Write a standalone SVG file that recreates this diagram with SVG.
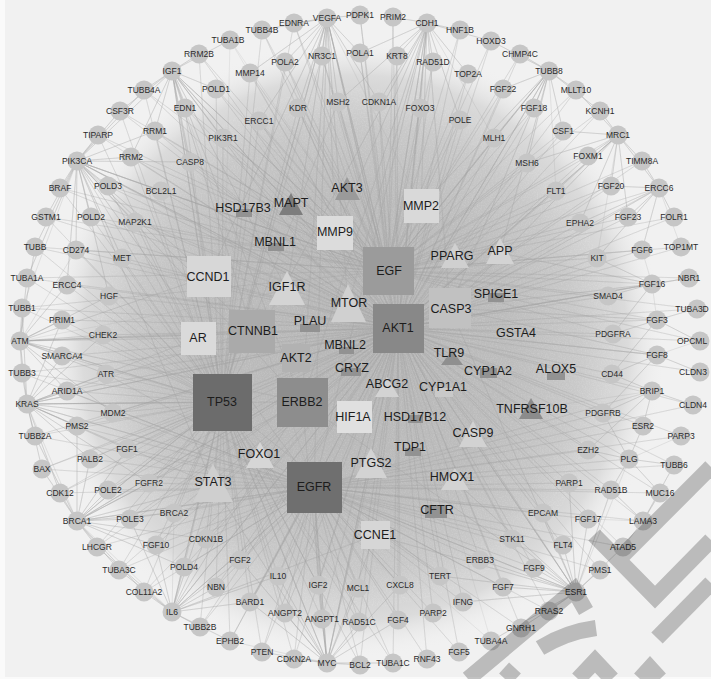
<svg xmlns="http://www.w3.org/2000/svg" width="711" height="679" viewBox="0 0 711 679">
<defs>
<radialGradient id="hz" cx="355" cy="348" r="310" gradientUnits="userSpaceOnUse">
<stop offset="0" stop-color="#b6b6b6"/>
<stop offset="0.5" stop-color="#bcbcbc"/>
<stop offset="0.72" stop-color="#c8c8c8"/>
<stop offset="0.88" stop-color="#dbdbdb"/>
<stop offset="1" stop-color="#f1f1f1" stop-opacity="0"/>
</radialGradient>
<filter id="nz" x="0" y="0" width="100%" height="100%">
<feTurbulence type="fractalNoise" baseFrequency="0.75" numOctaves="2" seed="3" result="n"/>
<feColorMatrix in="n" type="matrix" values="0 0 0 0 1 0 0 0 0 1 0 0 0 0 1 1 0 0 0 -0.4" result="w"/>
<feComposite in="w" in2="SourceGraphic" operator="in"/>
</filter>
<style>
.c{fill:#c6c6c6}
.t{font-family:"Liberation Sans",Arial,sans-serif;font-size:8.5px;fill:#2a2a2a;text-anchor:middle;dominant-baseline:central}
.T{font-family:"Liberation Sans",Arial,sans-serif;font-size:12.5px;fill:#1c1c1c;text-anchor:middle;dominant-baseline:central}
.e{fill:none;stroke:#a2a2a2;stroke-width:0.45;stroke-opacity:0.38;stroke-linejoin:round}
.f{fill:none;stroke:#a6a6a6;stroke-width:0.5;stroke-opacity:0.5;stroke-linejoin:round}
.sd{fill:#929292}
</style>
</defs>
<rect width="711" height="679" fill="#fafafa"/>
<rect x="5" y="0" width="706" height="677" fill="#f1f1f1"/>
<circle cx="355" cy="348" r="310" fill="url(#hz)"/>
<circle cx="355" cy="348" r="260" fill="#000" filter="url(#nz)" opacity="0.3"/>
<g id="connectors">
<path class="e" d="M230 40L398 328 199 54 398 328 172 71 398 328 144 90 398 328 216 89 398 328 120 111 398 328 185 108 398 328 98 135 398 328 155 131 398 328 223 138 398 328 77 161 398 328 131 157 398 328 190 162 398 328 60 188 398 328 108 186 398 328 161 191 398 328 46 217 398 328 91 217 398 328 135 222 398 328 262 30 398 328 294 23 398 328 327 18 398 328 360 15 398 328 393 17 398 328 427 23 398 328 460 30 398 328 322 56 398 328 360 53 398 328 397 56 398 328 285 62 398 328 433 62 398 328 250 73 398 328 468 74 398 328 338 102 398 328 379 102 398 328 298 108 398 328 420 108 398 328 259 121 398 328 460 120 398 328 491 41 398 328 520 54 398 328 549 71 398 328 503 89 398 328 576 90 398 328 534 108 398 328 600 111 398 328 563 131 398 328 494 138 398 328 618 135 398 328 588 156 398 328 527 163 398 328 642 161 398 328 611 186 398 328 556 191 398 328 659 188 398 328 628 217 398 328 674 217 398 328 580 223 398 328 35 247 398 328 76 250 398 328 122 258 398 328 27 278 398 328 67 285 398 328 109 296 398 328 22 308 398 328 62 320 398 328 103 335 398 328 20 341 398 328 62 356 398 328 22 373 398 328 106 374 398 328 67 391 398 328 27 404 398 328 113 413 398 328 77 426 398 328 35 436 398 328 127 449 398 328 597 258 398 328 642 250 398 328 681 247 398 328 608 296 398 328 652 284 398 328 689 278 398 328 695 309 398 328 657 320 398 328 613 334 398 328 698 341 398 328 657 355 398 328 612 374 398 328 699 372 398 328 652 391 398 328 693 405 398 328 603 413 398 328 643 426 398 328 681 436 398 328 588 450 398 328 90 459 398 328 42 469 398 328 149 483 398 328 60 493 398 328 108 490 398 328 77 521 398 328 130 519 398 328 174 513 398 328 206 539 398 328 97 547 398 328 156 545 398 328 119 570 398 328 184 567 398 328 240 560 398 328 144 592 398 328 216 587 398 328 172 612 398 328 200 627 398 328 230 641 398 328 278 576 398 328 318 585 398 328 358 588 398 328 400 585 398 328 440 576 398 328 250 602 398 328 285 613 398 328 322 619 398 328 359 622 398 328 398 620 398 328 433 613 398 328 463 602 398 328 262 652 398 328 294 659 398 328 327 663 398 328 360 665 398 328 393 663 398 328 427 659 398 328 459 652 398 328 629 459 398 328 674 465 398 328 569 483 398 328 611 490 398 328 660 493 398 328 543 513 398 328 588 519 398 328 643 521 398 328 512 539 398 328 563 545 398 328 623 547 398 328 480 560 398 328 534 568 398 328 600 570 398 328 503 587 398 328 576 592 398 328 549 611 398 328 521 628 398 328 491 641"/>
<path class="e" d="M230 40L222 402 199 54 222 402 172 71 222 402 144 90 222 402 216 89 222 402 120 111 222 402 185 108 222 402 98 135 222 402 155 131 222 402 223 138 222 402 77 161 222 402 131 157 222 402 190 162 222 402 60 188 222 402 108 186 222 402 161 191 222 402 46 217 222 402 91 217 222 402 135 222 222 402 262 30 222 402 294 23 222 402 327 18 222 402 322 56 222 402 285 62 222 402 250 73 222 402 338 102 222 402 298 108 222 402 259 121 222 402 35 247 222 402 76 250 222 402 122 258 222 402 27 278 222 402 67 285 222 402 109 296 222 402 22 308 222 402 62 320 222 402 103 335 222 402 20 341 222 402 62 356 222 402 22 373 222 402 106 374 222 402 67 391 222 402 27 404 222 402 113 413 222 402 77 426 222 402 35 436 222 402 127 449 222 402 90 459 222 402 42 469 222 402 149 483 222 402 60 493 222 402 108 490 222 402 77 521 222 402 130 519 222 402 174 513 222 402 206 539 222 402 97 547 222 402 156 545 222 402 119 570 222 402 184 567 222 402 240 560 222 402 144 592 222 402 216 587 222 402 172 612 222 402 200 627 222 402 230 641 222 402 278 576 222 402 318 585 222 402 358 588 222 402 250 602 222 402 285 613 222 402 322 619 222 402 359 622 222 402 262 652 222 402 294 659 222 402 327 663 222 402 360 665 222 402 393 663 222 402 440 576 222 402 400 585"/>
<path class="e" d="M27 404L314 487 113 413 314 487 77 426 314 487 35 436 314 487 127 449 314 487 22 373 314 487 67 391 314 487 106 374 314 487 603 413 314 487 643 426 314 487 681 436 314 487 588 450 314 487 693 405 314 487 652 391 314 487 90 459 314 487 42 469 314 487 149 483 314 487 60 493 314 487 108 490 314 487 77 521 314 487 130 519 314 487 174 513 314 487 206 539 314 487 97 547 314 487 156 545 314 487 119 570 314 487 184 567 314 487 240 560 314 487 144 592 314 487 216 587 314 487 172 612 314 487 200 627 314 487 230 641 314 487 278 576 314 487 318 585 314 487 358 588 314 487 400 585 314 487 440 576 314 487 250 602 314 487 285 613 314 487 322 619 314 487 359 622 314 487 398 620 314 487 433 613 314 487 463 602 314 487 262 652 314 487 294 659 314 487 327 663 314 487 360 665 314 487 393 663 314 487 427 659 314 487 459 652 314 487 629 459 314 487 674 465 314 487 569 483 314 487 611 490 314 487 660 493 314 487 543 513 314 487 588 519 314 487 643 521 314 487 512 539 314 487 563 545 314 487 623 547 314 487 480 560 314 487 534 568 314 487 600 570 314 487 503 587 314 487 576 592 314 487 549 611 314 487 521 628 314 487 491 641"/>
<path class="e" d="M230 40L388 271 199 54 388 271 172 71 388 271 144 90 388 271 216 89 388 271 120 111 388 271 185 108 388 271 98 135 388 271 155 131 388 271 223 138 388 271 77 161 388 271 131 157 388 271 190 162 388 271 60 188 388 271 108 186 388 271 161 191 388 271 46 217 388 271 91 217 388 271 135 222 388 271 262 30 388 271 294 23 388 271 327 18 388 271 360 15 388 271 393 17 388 271 427 23 388 271 460 30 388 271 322 56 388 271 360 53 388 271 397 56 388 271 285 62 388 271 433 62 388 271 250 73 388 271 468 74 388 271 338 102 388 271 379 102 388 271 298 108 388 271 420 108 388 271 259 121 388 271 460 120 388 271 491 41 388 271 520 54 388 271 549 71 388 271 503 89 388 271 576 90 388 271 534 108 388 271 600 111 388 271 563 131 388 271 494 138 388 271 618 135 388 271 588 156 388 271 527 163 388 271 642 161 388 271 611 186 388 271 556 191 388 271 659 188 388 271 628 217 388 271 674 217 388 271 580 223 388 271 597 258 388 271 642 250 388 271 681 247 388 271 608 296 388 271 652 284 388 271 689 278 388 271 695 309 388 271 657 320 388 271 613 334 388 271 698 341 388 271 35 247 388 271 76 250 388 271 27 278 388 271 22 308 388 271 20 341"/>
<path class="f" d="M77 161L98 135 77 161 120 111 77 161 144 90 77 161 131 157 77 161 108 186 77 161 60 188 77 161 46 217 77 161 91 217 77 161 35 247 77 161 76 250 77 161 27 278 77 161 67 285 77 161 135 222 77 161 161 191 77 161 190 162 77 161 155 131 77 161 209 276 77 161 252 331 77 161 302 402 77 161 314 487 77 161 398 328 77 161 388 271 77 161 213 485 77 161 348 306 77 161 122 258 77 161 109 296 77 161 172 71 77 161 22 308"/>
<path class="f" d="M27 404L20 341 27 404 22 373 27 404 67 391 27 404 62 356 27 404 77 426 27 404 35 436 27 404 113 413 27 404 106 374 27 404 103 335 27 404 62 320 27 404 22 308 27 404 42 469 27 404 90 459 27 404 60 493 27 404 127 449 27 404 222 402 27 404 314 487 27 404 302 402 27 404 213 485 27 404 252 331 27 404 398 328 27 404 198 338 27 404 149 483 27 404 77 521"/>
<path class="f" d="M20 341L22 308 20 341 62 320 20 341 103 335 20 341 62 356 20 341 22 373 20 341 67 391 20 341 106 374 20 341 27 278 20 341 67 285 20 341 109 296 20 341 198 338 20 341 222 402 20 341 252 331 20 341 398 328 20 341 302 402 20 341 209 276 20 341 113 413 20 341 35 247 20 341 76 250"/>
<path class="f" d="M77 521L60 493 77 521 42 469 77 521 90 459 77 521 108 490 77 521 130 519 77 521 149 483 77 521 174 513 77 521 97 547 77 521 119 570 77 521 156 545 77 521 144 592 77 521 77 426 77 521 35 436 77 521 127 449 77 521 206 539 77 521 222 402 77 521 314 487 77 521 213 485 77 521 302 402 77 521 398 328 77 521 184 567 77 521 172 612"/>
<path class="f" d="M172 612L144 592 172 612 119 570 172 612 97 547 172 612 156 545 172 612 184 567 172 612 216 587 172 612 200 627 172 612 230 641 172 612 206 539 172 612 240 560 172 612 250 602 172 612 278 576 172 612 222 402 172 612 314 487 172 612 213 485 172 612 302 402 172 612 398 328 172 612 375 535 172 612 130 519 172 612 174 513"/>
<path class="f" d="M327 663L262 652 327 663 294 659 327 663 360 665 327 663 393 663 327 663 322 619 327 663 285 613 327 663 318 585 327 663 358 588 327 663 359 622 327 663 250 602 327 663 278 576 327 663 398 620 327 663 400 585 327 663 314 487 327 663 375 535 327 663 222 402 327 663 302 402 327 663 398 328 327 663 371 466 327 663 213 485 327 663 240 560 327 663 230 641"/>
<path class="f" d="M576 592L563 545 576 592 600 570 576 592 549 611 576 592 521 628 576 592 491 641 576 592 503 587 576 592 534 568 576 592 512 539 576 592 543 513 576 592 588 519 576 592 569 483 576 592 480 560 576 592 623 547 576 592 611 490 576 592 463 602 576 592 440 576 576 592 314 487 576 592 398 328 576 592 455 481 576 592 473 436 576 592 375 535 576 592 302 402 576 592 450 308 576 592 629 459"/>
<path class="f" d="M427 23L460 30 427 23 393 17 427 23 397 56 427 23 433 62 427 23 468 74 427 23 420 108 427 23 360 53 427 23 379 102 427 23 460 120 427 23 491 41 427 23 338 102 427 23 398 328 427 23 388 271 427 23 421 206 427 23 335 233 427 23 450 308 427 23 348 306 427 23 302 402 427 23 222 402 427 23 314 487 427 23 494 138"/>
<path class="f" d="M327 18L294 23 327 18 262 30 327 18 360 15 327 18 322 56 327 18 285 62 327 18 360 53 327 18 298 108 327 18 338 102 327 18 250 73 327 18 259 121 327 18 379 102 327 18 398 328 327 18 388 271 327 18 335 233 327 18 348 306 327 18 222 402 327 18 314 487 327 18 302 402 327 18 209 276 327 18 287 290 327 18 421 206"/>
<path class="f" d="M172 71L199 54 172 71 230 40 172 71 144 90 172 71 185 108 172 71 216 89 172 71 155 131 172 71 223 138 172 71 190 162 172 71 120 111 172 71 131 157 172 71 209 276 172 71 252 331 172 71 222 402 172 71 398 328 172 71 388 271 172 71 287 290 172 71 348 306 172 71 302 402 172 71 314 487"/>
<path class="f" d="M549 71L520 54 549 71 491 41 549 71 503 89 549 71 534 108 549 71 576 90 549 71 563 131 549 71 494 138 549 71 527 163 549 71 600 111 549 71 398 328 549 71 388 271 549 71 450 308 549 71 500 253 549 71 421 206 549 71 556 191"/>
<path class="f" d="M618 135L600 111 618 135 576 90 618 135 563 131 618 135 588 156 618 135 642 161 618 135 611 186 618 135 659 188 618 135 556 191 618 135 527 163 618 135 580 223 618 135 628 217 618 135 450 308 618 135 398 328 618 135 597 258"/>
<path class="f" d="M659 188L674 217 659 188 628 217 659 188 611 186 659 188 642 161 659 188 580 223 659 188 642 250 659 188 597 258 659 188 450 308 659 188 681 247"/>
<path class="f" d="M652 284L608 296 652 284 613 334 652 284 597 258 652 284 450 308 652 284 398 328 652 284 500 253 652 284 689 278 652 284 642 250M657 320L613 334 657 320 612 374 657 320 450 308 657 320 695 309 657 320 698 341 657 320 652 284M657 355L612 374 657 355 603 413 657 355 450 308 657 355 398 328 657 355 699 372 657 355 698 341M652 391L603 413 652 391 588 450 652 391 693 405 652 391 643 426 652 391 612 374 652 391 531 409M629 459L674 465 629 459 660 493 629 459 611 490 629 459 588 450 629 459 603 413 629 459 643 426 629 459 681 436M643 521L623 547 643 521 660 493 643 521 611 490 643 521 674 465 643 521 588 519"/>
</g>
<g id="nodes">
<g id="TUBA1B"><circle class="c" cx="230" cy="40" r="9.5"/><text class="t" x="228" y="40">TUBA1B</text></g>
<g id="RRM2B"><circle class="c" cx="199" cy="54" r="9.5"/><text class="t" x="199" y="54">RRM2B</text></g>
<g id="IGF1"><circle class="c" cx="172" cy="71" r="9.5"/><text class="t" x="172" y="71">IGF1</text></g>
<g id="TUBB4A"><circle class="c" cx="144" cy="90" r="9.5"/><text class="t" x="144" y="90">TUBB4A</text></g>
<g id="POLD1"><circle class="c" cx="216" cy="89" r="9.5"/><text class="t" x="216" y="89">POLD1</text></g>
<g id="CSF3R"><circle class="c" cx="120" cy="111" r="9.5"/><text class="t" x="120" y="111">CSF3R</text></g>
<g id="EDN1"><circle class="c" cx="185" cy="108" r="9.5"/><text class="t" x="185" y="108">EDN1</text></g>
<g id="TIPARP"><circle class="c" cx="98" cy="135" r="9.5"/><text class="t" x="98" y="135">TIPARP</text></g>
<g id="RRM1"><circle class="c" cx="155" cy="131" r="9.5"/><text class="t" x="155" y="131">RRM1</text></g>
<g id="PIK3R1"><circle class="c" cx="223" cy="138" r="9.5"/><text class="t" x="223" y="138">PIK3R1</text></g>
<g id="PIK3CA"><circle class="c" cx="77" cy="161" r="9.5"/><text class="t" x="77" y="161">PIK3CA</text></g>
<g id="RRM2"><circle class="c" cx="131" cy="157" r="9.5"/><text class="t" x="131" y="157">RRM2</text></g>
<g id="CASP8"><circle class="c" cx="190" cy="162" r="9.5"/><text class="t" x="190" y="162">CASP8</text></g>
<g id="BRAF"><circle class="c" cx="60" cy="188" r="9.5"/><text class="t" x="60" y="188">BRAF</text></g>
<g id="POLD3"><circle class="c" cx="108" cy="186" r="9.5"/><text class="t" x="108" y="186">POLD3</text></g>
<g id="BCL2L1"><circle class="c" cx="161" cy="191" r="9.5"/><text class="t" x="161" y="191">BCL2L1</text></g>
<g id="GSTM1"><circle class="c" cx="46" cy="217" r="9.5"/><text class="t" x="46" y="217">GSTM1</text></g>
<g id="POLD2"><circle class="c" cx="91" cy="217" r="9.5"/><text class="t" x="91" y="217">POLD2</text></g>
<g id="MAP2K1"><circle class="c" cx="135" cy="222" r="9.5"/><text class="t" x="135" y="222">MAP2K1</text></g>
<g id="TUBB4B"><circle class="c" cx="262" cy="30" r="9.5"/><text class="t" x="262" y="30">TUBB4B</text></g>
<g id="EDNRA"><circle class="c" cx="294" cy="23" r="9.5"/><text class="t" x="294" y="23">EDNRA</text></g>
<g id="VEGFA"><circle class="c" cx="327" cy="18" r="9.5"/><text class="t" x="327" y="18">VEGFA</text></g>
<g id="PDPK1"><circle class="c" cx="360" cy="15" r="9.5"/><text class="t" x="360" y="15">PDPK1</text></g>
<g id="PRIM2"><circle class="c" cx="393" cy="17" r="9.5"/><text class="t" x="393" y="17">PRIM2</text></g>
<g id="CDH1"><circle class="c" cx="427" cy="23" r="9.5"/><text class="t" x="427" y="23">CDH1</text></g>
<g id="HNF1B"><circle class="c" cx="460" cy="30" r="9.5"/><text class="t" x="460" y="30">HNF1B</text></g>
<g id="NR3C1"><circle class="c" cx="322" cy="56" r="9.5"/><text class="t" x="322" y="56">NR3C1</text></g>
<g id="POLA1"><circle class="c" cx="360" cy="53" r="9.5"/><text class="t" x="360" y="53">POLA1</text></g>
<g id="KRT8"><circle class="c" cx="397" cy="56" r="9.5"/><text class="t" x="397" y="56">KRT8</text></g>
<g id="POLA2"><circle class="c" cx="285" cy="62" r="9.5"/><text class="t" x="285" y="62">POLA2</text></g>
<g id="RAD51D"><circle class="c" cx="433" cy="62" r="9.5"/><text class="t" x="433" y="62">RAD51D</text></g>
<g id="MMP14"><circle class="c" cx="250" cy="73" r="9.5"/><text class="t" x="250" y="73">MMP14</text></g>
<g id="TOP2A"><circle class="c" cx="468" cy="74" r="9.5"/><text class="t" x="468" y="74">TOP2A</text></g>
<g id="MSH2"><circle class="c" cx="338" cy="102" r="9.5"/><text class="t" x="338" y="102">MSH2</text></g>
<g id="CDKN1A"><circle class="c" cx="379" cy="102" r="9.5"/><text class="t" x="379" y="102">CDKN1A</text></g>
<g id="KDR"><circle class="c" cx="298" cy="108" r="9.5"/><text class="t" x="298" y="108">KDR</text></g>
<g id="FOXO3"><circle class="c" cx="420" cy="108" r="9.5"/><text class="t" x="420" y="108">FOXO3</text></g>
<g id="ERCC1"><circle class="c" cx="259" cy="121" r="9.5"/><text class="t" x="259" y="121">ERCC1</text></g>
<g id="POLE"><circle class="c" cx="460" cy="120" r="9.5"/><text class="t" x="460" y="120">POLE</text></g>
<g id="HOXD3"><circle class="c" cx="491" cy="41" r="9.5"/><text class="t" x="491" y="41">HOXD3</text></g>
<g id="CHMP4C"><circle class="c" cx="520" cy="54" r="9.5"/><text class="t" x="520" y="54">CHMP4C</text></g>
<g id="TUBB8"><circle class="c" cx="549" cy="71" r="9.5"/><text class="t" x="549" y="71">TUBB8</text></g>
<g id="FGF22"><circle class="c" cx="503" cy="89" r="9.5"/><text class="t" x="503" y="89">FGF22</text></g>
<g id="MLLT10"><circle class="c" cx="576" cy="90" r="9.5"/><text class="t" x="576" y="90">MLLT10</text></g>
<g id="FGF18"><circle class="c" cx="534" cy="108" r="9.5"/><text class="t" x="534" y="108">FGF18</text></g>
<g id="KCNH1"><circle class="c" cx="600" cy="111" r="9.5"/><text class="t" x="600" y="111">KCNH1</text></g>
<g id="CSF1"><circle class="c" cx="563" cy="131" r="9.5"/><text class="t" x="563" y="131">CSF1</text></g>
<g id="MLH1"><circle class="c" cx="494" cy="138" r="9.5"/><text class="t" x="494" y="138">MLH1</text></g>
<g id="MRC1"><circle class="c" cx="618" cy="135" r="9.5"/><text class="t" x="618" y="135">MRC1</text></g>
<g id="FOXM1"><circle class="c" cx="588" cy="156" r="9.5"/><text class="t" x="588" y="156">FOXM1</text></g>
<g id="MSH6"><circle class="c" cx="527" cy="163" r="9.5"/><text class="t" x="527" y="163">MSH6</text></g>
<g id="TIMM8A"><circle class="c" cx="642" cy="161" r="9.5"/><text class="t" x="642" y="161">TIMM8A</text></g>
<g id="FGF20"><circle class="c" cx="611" cy="186" r="9.5"/><text class="t" x="611" y="186">FGF20</text></g>
<g id="FLT1"><circle class="c" cx="556" cy="191" r="9.5"/><text class="t" x="556" y="191">FLT1</text></g>
<g id="ERCC6"><circle class="c" cx="659" cy="188" r="9.5"/><text class="t" x="659" y="188">ERCC6</text></g>
<g id="FGF23"><circle class="c" cx="628" cy="217" r="9.5"/><text class="t" x="628" y="217">FGF23</text></g>
<g id="FOLR1"><circle class="c" cx="674" cy="217" r="9.5"/><text class="t" x="674" y="217">FOLR1</text></g>
<g id="EPHA2"><circle class="c" cx="580" cy="223" r="9.5"/><text class="t" x="580" y="223">EPHA2</text></g>
<g id="TUBB"><circle class="c" cx="35" cy="247" r="9.5"/><text class="t" x="35" y="247">TUBB</text></g>
<g id="CD274"><circle class="c" cx="76" cy="250" r="9.5"/><text class="t" x="76" y="250">CD274</text></g>
<g id="MET"><circle class="c" cx="122" cy="258" r="9.5"/><text class="t" x="122" y="258">MET</text></g>
<g id="TUBA1A"><circle class="c" cx="27" cy="278" r="9.5"/><text class="t" x="27" y="278">TUBA1A</text></g>
<g id="ERCC4"><circle class="c" cx="67" cy="285" r="9.5"/><text class="t" x="67" y="285">ERCC4</text></g>
<g id="HGF"><circle class="c" cx="109" cy="296" r="9.5"/><text class="t" x="109" y="296">HGF</text></g>
<g id="TUBB1"><circle class="c" cx="22" cy="308" r="9.5"/><text class="t" x="22" y="308">TUBB1</text></g>
<g id="PRIM1"><circle class="c" cx="62" cy="320" r="9.5"/><text class="t" x="62" y="320">PRIM1</text></g>
<g id="CHEK2"><circle class="c" cx="103" cy="335" r="9.5"/><text class="t" x="103" y="335">CHEK2</text></g>
<g id="ATM"><circle class="c" cx="20" cy="341" r="9.5"/><text class="t" x="20" y="341">ATM</text></g>
<g id="SMARCA4"><circle class="c" cx="62" cy="356" r="9.5"/><text class="t" x="62" y="356">SMARCA4</text></g>
<g id="TUBB3"><circle class="c" cx="22" cy="373" r="9.5"/><text class="t" x="22" y="373">TUBB3</text></g>
<g id="ATR"><circle class="c" cx="106" cy="374" r="9.5"/><text class="t" x="106" y="374">ATR</text></g>
<g id="ARID1A"><circle class="c" cx="67" cy="391" r="9.5"/><text class="t" x="67" y="391">ARID1A</text></g>
<g id="KRAS"><circle class="c" cx="27" cy="404" r="9.5"/><text class="t" x="27" y="404">KRAS</text></g>
<g id="MDM2"><circle class="c" cx="113" cy="413" r="9.5"/><text class="t" x="113" y="413">MDM2</text></g>
<g id="PMS2"><circle class="c" cx="77" cy="426" r="9.5"/><text class="t" x="77" y="426">PMS2</text></g>
<g id="TUBB2A"><circle class="c" cx="35" cy="436" r="9.5"/><text class="t" x="35" y="436">TUBB2A</text></g>
<g id="FGF1"><circle class="c" cx="127" cy="449" r="9.5"/><text class="t" x="127" y="449">FGF1</text></g>
<g id="KIT"><circle class="c" cx="597" cy="258" r="9.5"/><text class="t" x="597" y="258">KIT</text></g>
<g id="FGF6"><circle class="c" cx="642" cy="250" r="9.5"/><text class="t" x="642" y="250">FGF6</text></g>
<g id="TOP1MT"><circle class="c" cx="681" cy="247" r="9.5"/><text class="t" x="681" y="247">TOP1MT</text></g>
<g id="SMAD4"><circle class="c" cx="608" cy="296" r="9.5"/><text class="t" x="608" y="296">SMAD4</text></g>
<g id="FGF16"><circle class="c" cx="652" cy="284" r="9.5"/><text class="t" x="652" y="284">FGF16</text></g>
<g id="NBR1"><circle class="c" cx="689" cy="278" r="9.5"/><text class="t" x="689" y="278">NBR1</text></g>
<g id="TUBA3D"><circle class="c" cx="697" cy="309" r="9.5"/><text class="t" x="692" y="309">TUBA3D</text></g>
<g id="FGF3"><circle class="c" cx="657" cy="320" r="9.5"/><text class="t" x="657" y="320">FGF3</text></g>
<g id="PDGFRA"><circle class="c" cx="613" cy="334" r="9.5"/><text class="t" x="613" y="334">PDGFRA</text></g>
<g id="OPCML"><circle class="c" cx="700" cy="341" r="9.5"/><text class="t" x="692" y="341">OPCML</text></g>
<g id="FGF8"><circle class="c" cx="657" cy="355" r="9.5"/><text class="t" x="657" y="355">FGF8</text></g>
<g id="CD44"><circle class="c" cx="612" cy="374" r="9.5"/><text class="t" x="612" y="374">CD44</text></g>
<g id="CLDN3"><circle class="c" cx="700" cy="372" r="9.5"/><text class="t" x="693" y="372">CLDN3</text></g>
<g id="BRIP1"><circle class="c" cx="652" cy="391" r="9.5"/><text class="t" x="652" y="391">BRIP1</text></g>
<g id="CLDN4"><circle class="c" cx="693" cy="405" r="9.5"/><text class="t" x="693" y="405">CLDN4</text></g>
<g id="PDGFRB"><circle class="c" cx="603" cy="413" r="9.5"/><text class="t" x="603" y="413">PDGFRB</text></g>
<g id="ESR2"><circle class="c" cx="643" cy="426" r="9.5"/><text class="t" x="643" y="426">ESR2</text></g>
<g id="PARP3"><circle class="c" cx="681" cy="436" r="9.5"/><text class="t" x="681" y="436">PARP3</text></g>
<g id="EZH2"><circle class="c" cx="588" cy="450" r="9.5"/><text class="t" x="588" y="450">EZH2</text></g>
<g id="PALB2"><circle class="c" cx="90" cy="459" r="9.5"/><text class="t" x="90" y="459">PALB2</text></g>
<g id="BAX"><circle class="c" cx="42" cy="469" r="9.5"/><text class="t" x="42" y="469">BAX</text></g>
<g id="FGFR2"><circle class="c" cx="149" cy="483" r="9.5"/><text class="t" x="149" y="483">FGFR2</text></g>
<g id="CDK12"><circle class="c" cx="60" cy="493" r="9.5"/><text class="t" x="60" y="493">CDK12</text></g>
<g id="POLE2"><circle class="c" cx="108" cy="490" r="9.5"/><text class="t" x="108" y="490">POLE2</text></g>
<g id="BRCA1"><circle class="c" cx="77" cy="521" r="9.5"/><text class="t" x="77" y="521">BRCA1</text></g>
<g id="POLE3"><circle class="c" cx="130" cy="519" r="9.5"/><text class="t" x="130" y="519">POLE3</text></g>
<g id="BRCA2"><circle class="c" cx="174" cy="513" r="9.5"/><text class="t" x="174" y="513">BRCA2</text></g>
<g id="CDKN1B"><circle class="c" cx="206" cy="539" r="9.5"/><text class="t" x="206" y="539">CDKN1B</text></g>
<g id="LHCGR"><circle class="c" cx="97" cy="547" r="9.5"/><text class="t" x="97" y="547">LHCGR</text></g>
<g id="FGF10"><circle class="c" cx="156" cy="545" r="9.5"/><text class="t" x="156" y="545">FGF10</text></g>
<g id="TUBA3C"><circle class="c" cx="119" cy="570" r="9.5"/><text class="t" x="119" y="570">TUBA3C</text></g>
<g id="POLD4"><circle class="c" cx="184" cy="567" r="9.5"/><text class="t" x="184" y="567">POLD4</text></g>
<g id="FGF2"><circle class="c" cx="240" cy="560" r="9.5"/><text class="t" x="240" y="560">FGF2</text></g>
<g id="COL11A2"><circle class="c" cx="144" cy="592" r="9.5"/><text class="t" x="144" y="592">COL11A2</text></g>
<g id="NBN"><circle class="c" cx="216" cy="587" r="9.5"/><text class="t" x="216" y="587">NBN</text></g>
<g id="IL6"><circle class="c" cx="172" cy="612" r="9.5"/><text class="t" x="172" y="612">IL6</text></g>
<g id="TUBB2B"><circle class="c" cx="200" cy="627" r="9.5"/><text class="t" x="200" y="627">TUBB2B</text></g>
<g id="EPHB2"><circle class="c" cx="230" cy="641" r="9.5"/><text class="t" x="230" y="641">EPHB2</text></g>
<g id="IL10"><circle class="c" cx="278" cy="576" r="9.5"/><text class="t" x="278" y="576">IL10</text></g>
<g id="IGF2"><circle class="c" cx="318" cy="585" r="9.5"/><text class="t" x="318" y="585">IGF2</text></g>
<g id="MCL1"><circle class="c" cx="358" cy="588" r="9.5"/><text class="t" x="358" y="588">MCL1</text></g>
<g id="CXCL8"><circle class="c" cx="400" cy="585" r="9.5"/><text class="t" x="400" y="585">CXCL8</text></g>
<g id="TERT"><circle class="c" cx="440" cy="576" r="9.5"/><text class="t" x="440" y="576">TERT</text></g>
<g id="BARD1"><circle class="c" cx="250" cy="602" r="9.5"/><text class="t" x="250" y="602">BARD1</text></g>
<g id="ANGPT2"><circle class="c" cx="285" cy="613" r="9.5"/><text class="t" x="285" y="613">ANGPT2</text></g>
<g id="ANGPT1"><circle class="c" cx="322" cy="619" r="9.5"/><text class="t" x="322" y="619">ANGPT1</text></g>
<g id="RAD51C"><circle class="c" cx="359" cy="622" r="9.5"/><text class="t" x="359" y="622">RAD51C</text></g>
<g id="FGF4"><circle class="c" cx="398" cy="620" r="9.5"/><text class="t" x="398" y="620">FGF4</text></g>
<g id="PARP2"><circle class="c" cx="433" cy="613" r="9.5"/><text class="t" x="433" y="613">PARP2</text></g>
<g id="IFNG"><circle class="c" cx="463" cy="602" r="9.5"/><text class="t" x="463" y="602">IFNG</text></g>
<g id="PTEN"><circle class="c" cx="262" cy="652" r="9.5"/><text class="t" x="262" y="652">PTEN</text></g>
<g id="CDKN2A"><circle class="c" cx="294" cy="659" r="9.5"/><text class="t" x="294" y="659">CDKN2A</text></g>
<g id="MYC"><circle class="c" cx="327" cy="663" r="9.5"/><text class="t" x="327" y="663">MYC</text></g>
<g id="BCL2"><circle class="c" cx="360" cy="665" r="9.5"/><text class="t" x="360" y="665">BCL2</text></g>
<g id="TUBA1C"><circle class="c" cx="393" cy="663" r="9.5"/><text class="t" x="393" y="663">TUBA1C</text></g>
<g id="RNF43"><circle class="c" cx="427" cy="659" r="9.5"/><text class="t" x="427" y="659">RNF43</text></g>
<g id="FGF5"><circle class="c" cx="459" cy="652" r="9.5"/><text class="t" x="459" y="652">FGF5</text></g>
<g id="PLG"><circle class="c" cx="629" cy="459" r="9.5"/><text class="t" x="629" y="459">PLG</text></g>
<g id="TUBB6"><circle class="c" cx="674" cy="465" r="9.5"/><text class="t" x="674" y="465">TUBB6</text></g>
<g id="PARP1"><circle class="c" cx="569" cy="483" r="9.5"/><text class="t" x="569" y="483">PARP1</text></g>
<g id="RAD51B"><circle class="c" cx="611" cy="490" r="9.5"/><text class="t" x="611" y="490">RAD51B</text></g>
<g id="MUC16"><circle class="c" cx="660" cy="493" r="9.5"/><text class="t" x="660" y="493">MUC16</text></g>
<g id="EPCAM"><circle class="c" cx="543" cy="513" r="9.5"/><text class="t" x="543" y="513">EPCAM</text></g>
<g id="FGF17"><circle class="c" cx="588" cy="519" r="9.5"/><text class="t" x="588" y="519">FGF17</text></g>
<g id="LAMA3"><circle class="c" cx="643" cy="521" r="9.5"/><text class="t" x="643" y="521">LAMA3</text></g>
<g id="STK11"><circle class="c" cx="512" cy="539" r="9.5"/><text class="t" x="512" y="539">STK11</text></g>
<g id="FLT4"><circle class="c" cx="563" cy="545" r="9.5"/><text class="t" x="563" y="545">FLT4</text></g>
<g id="ATAD5"><circle class="c" cx="623" cy="547" r="9.5"/><text class="t" x="623" y="547">ATAD5</text></g>
<g id="ERBB3"><circle class="c" cx="480" cy="560" r="9.5"/><text class="t" x="480" y="560">ERBB3</text></g>
<g id="FGF9"><circle class="c" cx="534" cy="568" r="9.5"/><text class="t" x="534" y="568">FGF9</text></g>
<g id="PMS1"><circle class="c" cx="600" cy="570" r="9.5"/><text class="t" x="600" y="570">PMS1</text></g>
<g id="FGF7"><circle class="c" cx="503" cy="587" r="9.5"/><text class="t" x="503" y="587">FGF7</text></g>
<g id="ESR1"><circle class="c" cx="576" cy="592" r="9.5"/><text class="t" x="576" y="592">ESR1</text></g>
<g id="RRAS2"><circle class="c" cx="549" cy="611" r="9.5"/><text class="t" x="549" y="611">RRAS2</text></g>
<g id="GNRH1"><circle class="c" cx="521" cy="628" r="9.5"/><text class="t" x="521" y="628">GNRH1</text></g>
<g id="TUBA4A"><circle class="c" cx="491" cy="641" r="9.5"/><text class="t" x="491" y="641">TUBA4A</text></g>

<g id="HSD17B3"><rect class="sd" x="236" y="209" width="16" height="8"/><text class="T" x="243" y="208">HSD17B3</text></g>
<g id="MBNL1"><rect class="sd" x="268" y="243" width="16" height="8"/><text class="T" x="275" y="242">MBNL1</text></g>
<g id="PLAU"><rect class="sd" x="300" y="324" width="20" height="8"/><text class="T" x="310" y="321">PLAU</text></g>
<g id="MBNL2"><rect class="sd" x="339" y="347" width="15" height="7"/><text class="T" x="345" y="345">MBNL2</text></g>
<g id="CRYZ"><rect class="sd" x="341" y="368" width="20" height="8"/><text class="T" x="352" y="368">CRYZ</text></g>
<g id="SPICE1"><rect class="sd" x="488" y="293" width="16" height="9"/><text class="T" x="496" y="294">SPICE1</text></g>
<g id="GSTA4"><text class="T" x="516" y="333">GSTA4</text></g>
<g id="CYP1A2"><rect class="sd" x="480" y="368" width="17" height="10"/><text class="T" x="488" y="371">CYP1A2</text></g>
<g id="ALOX5"><rect class="sd" x="547" y="372" width="18" height="8"/><text class="T" x="556" y="369">ALOX5</text></g>
<g id="CYP1A1"><rect x="435" y="388" width="18" height="9" fill="#c9c9c9"/><text class="T" x="443" y="387">CYP1A1</text></g>
<g id="HSD17B12"><rect class="sd" x="408" y="415" width="15" height="8"/><text class="T" x="415" y="417">HSD17B12</text></g>
<g id="TDP1"><rect class="sd" x="405" y="448" width="16" height="8"/><text class="T" x="410" y="447">TDP1</text></g>
<g id="CFTR"><rect class="sd" x="425" y="505" width="22" height="13"/><text class="T" x="437" y="510">CFTR</text></g>

<g id="AKT3"><polygon points="347,177 335,200 360,200" fill="#9a9a9a"/><text class="T" x="347" y="188">AKT3</text></g>
<g id="MAPT"><polygon points="291,193 279,215 303,215" fill="#7d7d7d"/><text class="T" x="291" y="203">MAPT</text></g>
<g id="IGF1R"><polygon points="287,271 269,305 305,305" fill="#d4d4d4"/><text class="T" x="287" y="287">IGF1R</text></g>
<g id="MTOR"><polygon points="348,284 331,322 366,322" fill="#d0d0d0"/><text class="T" x="349" y="303">MTOR</text></g>
<g id="PPARG"><polygon points="455,243 441,268 469,268" fill="#d0d0d0"/><text class="T" x="452" y="256">PPARG</text></g>
<g id="APP"><polygon points="500,238 486,264 514,264" fill="#d3d3d3"/><text class="T" x="500" y="251">APP</text></g>
<g id="TLR9"><polygon points="452,350 441,365 463,365" fill="#8f8f8f"/><text class="T" x="449" y="353">TLR9</text></g>
<g id="ABCG2"><polygon points="387,377 375,397 399,397" fill="#d3d3d3"/><text class="T" x="387" y="384">ABCG2</text></g>
<g id="TNFRSF10B"><polygon points="531,398 519,419 543,419" fill="#8b8b8b"/><text class="T" x="532" y="409">TNFRSF10B</text></g>
<g id="CASP9"><polygon points="473,421 459,447 487,447" fill="#d2d2d2"/><text class="T" x="473" y="433">CASP9</text></g>
<g id="FOXO1"><polygon points="260,442 246,468 274,468" fill="#d6d6d6"/><text class="T" x="259" y="454">FOXO1</text></g>
<g id="PTGS2"><polygon points="371,448 355,478 387,478" fill="#d3d3d3"/><text class="T" x="371" y="463">PTGS2</text></g>
<g id="HMOX1"><polygon points="455,468 441,490 469,490" fill="#d3d3d3"/><text class="T" x="452" y="477">HMOX1</text></g>
<g id="STAT3"><polygon points="213,464 193,502 233,502" fill="#cfcfcf"/><text class="T" x="213" y="482">STAT3</text></g>

<g id="MMP2"><rect x="404" y="189" width="35" height="34" fill="#d9d9d9"/><text class="T" x="421" y="206">MMP2</text></g>
<g id="MMP9"><rect x="317" y="216" width="36" height="34" fill="#dcdcdc"/><text class="T" x="335" y="232">MMP9</text></g>
<g id="CCND1"><rect x="187" y="256" width="44" height="41" fill="#d7d7d7"/><text class="T" x="208" y="277">CCND1</text></g>
<g id="EGF"><rect x="363" y="247" width="51" height="48" fill="#9b9b9b"/><text class="T" x="389" y="271">EGF</text></g>
<g id="CASP3"><rect x="429" y="288" width="42" height="40" fill="#c1c1c1"/><text class="T" x="451" y="309">CASP3</text></g>
<g id="CTNNB1"><rect x="229" y="310" width="46" height="43" fill="#aaaaaa"/><text class="T" x="253" y="331">CTNNB1</text></g>
<g id="AKT1"><rect x="373" y="304" width="51" height="49" fill="#888888"/><text class="T" x="398" y="328">AKT1</text></g>
<g id="AR"><rect x="181" y="322" width="35" height="33" fill="#dadada"/><text class="T" x="198" y="338">AR</text></g>
<g id="AKT2"><rect x="282" y="344" width="28" height="28" fill="#b2b2b2"/><text class="T" x="296" y="358">AKT2</text></g>
<g id="TP53"><rect x="193" y="374" width="59" height="57" fill="#6c6c6c"/><text class="T" x="222" y="402">TP53</text></g>
<g id="ERBB2"><rect x="277" y="378" width="51" height="49" fill="#8d8d8d"/><text class="T" x="302" y="402">ERBB2</text></g>
<g id="HIF1A"><rect x="337" y="401" width="35" height="32" fill="#e0e0e0"/><text class="T" x="353" y="417">HIF1A</text></g>
<g id="EGFR"><rect x="287" y="462" width="55" height="51" fill="#6f6f6f"/><text class="T" x="314" y="487">EGFR</text></g>
<g id="CCNE1"><rect x="361" y="521" width="29" height="28" fill="#d6d6d6"/><text class="T" x="375" y="535">CCNE1</text></g>
</g>
<g id="watermark" opacity="0.22" fill="none" stroke="#000" stroke-width="16">
<path d="M711 467L621 557"/>
<path d="M594 535L655 597L711 540"/>
<path d="M711 583L657 638"/>
<path d="M468 679L574 590L586 611"/>
<path d="M540 648Q566 632 596 628"/>
<path d="M505 679L515 668"/>
<path d="M578 679L595 661L612 679"/>
<path d="M640 679L650 668L660 679"/>
</g>
</svg>
